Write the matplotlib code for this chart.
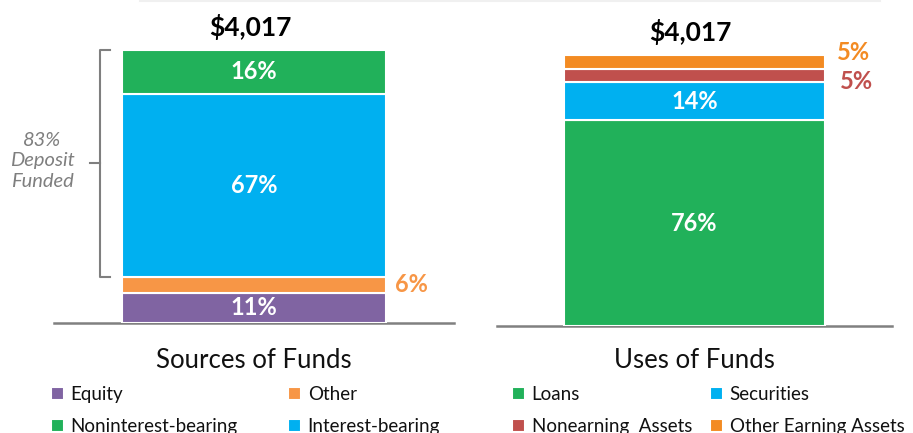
import matplotlib
matplotlib.use("Agg")
import matplotlib.pyplot as plt
from matplotlib.lines import Line2D

plt.rcParams["font.family"] = ["Lato", "DejaVu Sans"]

# ── data ──────────────────────────────────────────────
total_label = "$4,017"

sources_names  = ["Equity", "Other", "Interest-bearing", "Noninterest-bearing"]
sources_values = [11, 6, 67, 16]
sources_colors = ["#8064A2", "#F79646", "#00B0F0", "#21B15A"]

uses_names  = ["Loans", "Securities", "Nonearning  Assets", "Other Earning Assets"]
uses_values = [76, 14, 5, 5]
uses_colors = ["#21B15A", "#00B0F0", "#C0504D", "#F38B23"]

deposit_share = 83
panel_titles = ["Sources of Funds", "Uses of Funds"]

W, H = 913, 433
fig = plt.figure(figsize=(W / 100, H / 100), dpi=100)


def px_axes(x0, x1, y_base, y_top):
    return fig.add_axes([x0 / W, (H - y_base) / H, (x1 - x0) / W, (y_base - y_top) / H])


def stack(ax, names, values, colors):
    bars = {}
    bottom = 0
    for n, v, c in zip(names, values, colors):
        b = ax.bar(0.5, v, width=0.66, bottom=bottom, color=c,
                   edgecolor="white", linewidth=1.5, label=n, zorder=3)
        bars[n] = (b, bottom, v)
        bottom += v
    ax.set_xlim(0, 1)
    ax.set_ylim(0, 100)
    ax.set_yticks([])
    for s in ["top", "left", "right"]:
        ax.spines[s].set_visible(False)
    ax.spines["bottom"].set_color("#808080")
    ax.spines["bottom"].set_linewidth(1.8)
    ax.text(0.49, 108.5, total_label, ha="center", va="center",
            fontsize=19, fontweight="bold", color="black", clip_on=False)
    return bars


def inside_label(ax, bottom, v):
    ax.text(0.5, bottom + v / 2, f"{v}%", ha="center", va="center",
            fontsize=17, fontweight="bold", color="white", zorder=4)


# ── Sources of Funds ─────────────────────────────────
ax1 = px_axes(54, 454, 323, 50)
src = stack(ax1, sources_names, sources_values, sources_colors)
for n in ["Equity", "Interest-bearing", "Noninterest-bearing"]:
    _, b0, v = src[n]
    inside_label(ax1, b0, v)
_, b0, v = src["Other"]
ax1.text(0.852, b0 + v / 2, f"{v}%", ha="left", va="center",
         fontsize=17, fontweight="bold", color="#F79646")

# bracket around deposits
dep_lo = sources_values[0] + sources_values[1]
dep_hi = 100
dep_mid = (dep_lo + dep_hi) / 2
ax1.plot([0.14, 0.115, 0.115, 0.14], [dep_hi, dep_hi, dep_lo, dep_lo],
         color="#7F7F7F", lw=1.5, clip_on=False)
ax1.plot([0.09, 0.115], [dep_mid, dep_mid], color="#7F7F7F", lw=1.5, clip_on=False)
ax1.text(-0.03, dep_mid + 1, f"{deposit_share}%\nDeposit\nFunded", ha="center",
         va="center", fontsize=14.5, style="italic", color="#7F7F7F",
         linespacing=1.25, clip_on=False)

ax1.set_xticks([0.5], [panel_titles[0]])
ax1.tick_params(axis="x", length=0, pad=18, labelsize=18.5, labelcolor="#111111")

# ── Uses of Funds ────────────────────────────────────
ax2 = px_axes(497, 892, 326, 55)
use = stack(ax2, uses_names, uses_values, uses_colors)
for n in ["Loans", "Securities"]:
    _, b0, v = use[n]
    inside_label(ax2, b0, v)
_, b0, v = use["Other Earning Assets"]
ax2.text(0.86, 101.1, f"{v}%", ha="left", va="center",
         fontsize=17, fontweight="bold", color="#F38B23", clip_on=False)
_, b0, v = use["Nonearning  Assets"]
ax2.text(0.868, 90.4, f"{v}%", ha="left", va="center",
         fontsize=17, fontweight="bold", color="#C0504D")

ax2.set_xticks([0.5], [panel_titles[1]])
ax2.tick_params(axis="x", length=0, pad=16, labelsize=18.5, labelcolor="#111111")

# ── legends (one per column) ─────────────────────────
leg_kw = dict(frameon=False, fontsize=13.5, handlelength=0.7, handleheight=0.7,
              handletextpad=0.35, labelspacing=0.8, borderpad=0,
              borderaxespad=0, loc="upper left")


def column_legend(bars, names, x):
    handles = [bars[n][0] for n in names]
    lg = fig.legend(handles, names, bbox_to_anchor=(x / W, (H - 386) / H), **leg_kw)
    for t in lg.get_texts():
        t.set_color("#111111")


column_legend(src, ["Equity", "Noninterest-bearing"], 51)
column_legend(src, ["Other", "Interest-bearing"], 288)
column_legend(use, ["Loans", "Nonearning  Assets"], 512)
column_legend(use, ["Securities", "Other Earning Assets"], 710)

# faint top edge
fig.add_artist(Line2D([140 / W, 880 / W], [1 - 1 / H, 1 - 1 / H],
                      color="#F0F0F0", lw=1.5))

fig.savefig("out.png", dpi=100)
